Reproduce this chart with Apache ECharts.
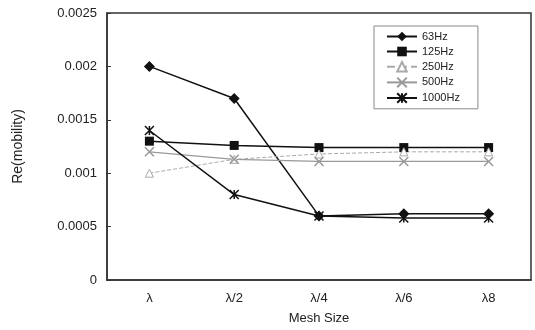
<!DOCTYPE html>
<html lang="en">
<head>
    <meta charset="UTF-8">
    <title>Re(mobility) vs Mesh Size</title>
    <script type="text/javascript" src="https://cdn.jsdelivr.net/npm/echarts@6/dist/echarts.min.js"></script>
    <style>
        html, body { margin: 0; padding: 0; background: #fff; }
        #main { width: 535px; height: 330px; }
    </style>
</head>
<body>

<!-- chart area -->
<div id="main"></div>

<script type="text/javascript">
    // categories and values
    var meshSizes = ["λ", "λ/2", "λ/4", "λ/6", "λ8"];
    var yTicks = [0, 0.0005, 0.001, 0.0015, 0.002, 0.0025];
    var hz63 = [0.002, 0.0017, 0.0006, 0.00062, 0.00062];
    var hz125 = [0.0013, 0.00126, 0.00124, 0.00124, 0.00124];
    var hz250 = [0.001, 0.00113, 0.00118, 0.0012, 0.0012];
    var hz500 = [0.0012, 0.00113, 0.00111, 0.00111, 0.00111];
    var hz1000 = [0.0014, 0.0008, 0.0006, 0.00058, 0.00058];

    var crossPath = 'path://M0,0L10,10M10,0L0,10';
    var starPath = 'path://M0,0L10,10M10,0L0,10M5,0L5,10';

    var font = '"Liberation Sans", Arial, sans-serif';

    var option = {
        animation: false,
        textStyle: { fontFamily: font },
        grid: {
            left: 107,
            right: 4,
            top: 13,
            bottom: 49,
            show: true,
            borderColor: '#333',
            borderWidth: 1.5
        },
        legend: {
            orient: 'vertical',
            left: 374,
            top: 26,
            padding: [5, 18, 5, 12],
            itemGap: 4,
            itemWidth: 30,
            itemHeight: 12,
            borderColor: '#888',
            borderWidth: 1,
            textStyle: { fontSize: 11, color: '#222', fontFamily: font },
            data: ["63Hz", "125Hz", "250Hz", "500Hz", "1000Hz"]
        },
        xAxis: {
            type: 'category',
            data: meshSizes,
            name: 'Mesh Size',
            nameLocation: 'middle',
            nameGap: 32,
            nameTextStyle: { fontSize: 13, color: '#222' },
            axisLine: { lineStyle: { color: '#333', width: 1.5 } },
            axisTick: { inside: true, length: 4, lineStyle: { color: '#333' } },
            axisLabel: { fontSize: 13, color: '#222', margin: 12 }
        },
        yAxis: {
            type: 'value',
            min: 0,
            max: 0.0025,
            interval: 0.0005,
            name: 'Re(mobility)',
            nameLocation: 'middle',
            nameGap: 82,
            nameTextStyle: { fontSize: 14, color: '#222' },
            axisLine: { show: true, lineStyle: { color: '#333', width: 1.5 } },
            axisTick: { show: true, inside: true, length: 4, lineStyle: { color: '#333' } },
            splitLine: { show: false },
            axisLabel: {
                fontSize: 13,
                color: '#222',
                margin: 10,
                formatter: function (v) {
                    for (var i = 0; i < yTicks.length; i++) {
                        if (Math.abs(v - yTicks[i]) < 1e-9) return String(yTicks[i]);
                    }
                    return '';
                }
            }
        },
        series: [
            {
                name: "63Hz", type: 'line', data: hz63,
                symbol: 'diamond', symbolSize: 11,
                lineStyle: { color: '#111', width: 1.5 },
                itemStyle: { color: '#111' }
            },
            {
                name: "125Hz", type: 'line', data: hz125,
                symbol: 'rect', symbolSize: 9,
                lineStyle: { color: '#111', width: 1.5 },
                itemStyle: { color: '#111' }
            },
            {
                name: "250Hz", type: 'line', data: hz250,
                symbol: 'triangle', symbolSize: 8,
                lineStyle: { color: '#aaa', width: 1, type: 'dashed' },
                itemStyle: { color: '#fff', borderColor: '#aaa', borderWidth: 1 }
            },
            {
                name: "500Hz", type: 'line', data: hz500,
                symbol: crossPath, symbolSize: 9,
                lineStyle: { color: '#999', width: 1.2 },
                itemStyle: { color: 'rgba(0,0,0,0)', borderColor: '#999', borderWidth: 1.5 }
            },
            {
                name: "1000Hz", type: 'line', data: hz1000,
                symbol: starPath, symbolSize: 9,
                lineStyle: { color: '#111', width: 1.5 },
                itemStyle: { color: 'rgba(0,0,0,0)', borderColor: '#111', borderWidth: 1.5 }
            }
        ]
    };

    var myChart = echarts.init(document.getElementById('main'));
    myChart.setOption(option);
</script>
</body>
</html>
